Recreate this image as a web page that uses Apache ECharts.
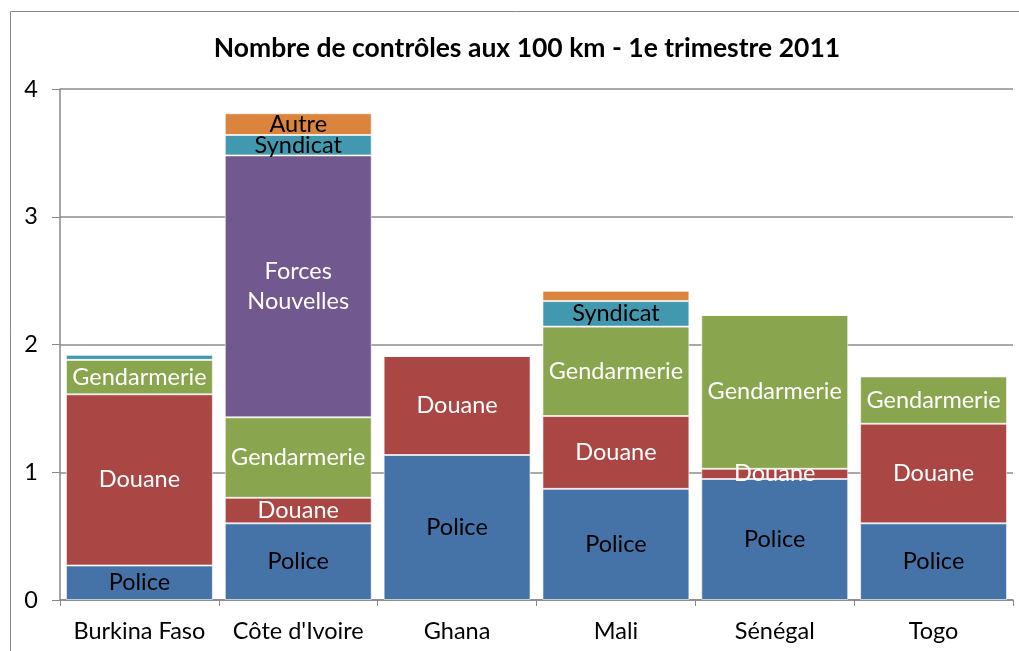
<!DOCTYPE html>
<html>
<head>
<meta charset="utf-8">
<script src="https://cdn.jsdelivr.net/npm/echarts@6/dist/echarts.min.js"></script>
<style>
  html, body { margin: 0; padding: 0; background: #fff; }
  #chart { width: 1019px; height: 651px; }
</style>
</head>
<body>
<div id="chart"></div>
<script>
var countries = ['Burkina Faso', "Côte d'Ivoire", 'Ghana', 'Mali', 'Sénégal', 'Togo'];
var police = [0.27, 0.60, 1.135, 0.87, 0.947, 0.60];
var douane = [1.34, 0.20, 0.775, 0.57, 0.08, 0.78];
var gendarmerie = [0.27, 0.63, 0, 0.70, 1.205, 0.37];
var forcesNouvelles = [0, 2.05, 0, 0, 0, 0];
var syndicat = [0.04, 0.16, 0, 0.20, 0, 0];
var autre = [0, 0.17, 0, 0.08, 0, 0];

var font = 'Lato, "Open Sans", sans-serif';
var chart = echarts.init(document.getElementById('chart'));

// one stacked series; empty segments and slivers without a label in the original get no label
function stackSeries(name, values, color, labelColor, labelText, hidden) {
  return {
    name: name,
    type: 'bar',
    stack: 'total',
    barCategoryGap: '7.5%',
    itemStyle: { color: color, borderColor: 'rgba(255,255,255,0.6)', borderWidth: 1 },
    label: {
      show: true,
      position: 'inside',
      color: labelColor,
      fontFamily: font,
      fontSize: 23.5,
      lineHeight: 30,
      formatter: labelText || name
    },
    data: values.map(function (v, i) {
      var item = { value: v };
      if (v === 0 || (hidden && hidden.indexOf(i) >= 0)) item.label = { show: false };
      return item;
    })
  };
}

chart.setOption({
  animation: false,
  title: {
    text: 'Nombre de contrôles aux 100 km - 1e trimestre 2011',
    left: 522,
    textAlign: 'center',
    top: 30,
    textStyle: { fontFamily: font, fontSize: 26.5, fontWeight: 'bold', color: '#000' }
  },
  graphic: [{
    type: 'rect',
    shape: { x: 10.5, y: 11.5, width: 1200, height: 700 },
    style: { fill: 'none', stroke: '#888', lineWidth: 1 },
    silent: true
  }],
  grid: { left: 60, right: 6, top: 89, bottom: 51 },
  xAxis: {
    type: 'category',
    data: countries,
    axisLine: { lineStyle: { color: '#888', width: 1.5 } },
    axisTick: { show: true, interval: 0, length: 6, lineStyle: { color: '#888' } },
    axisLabel: { interval: 0, hideOverlap: false, color: '#000', fontFamily: font, fontSize: 23.5, margin: 19 }
  },
  yAxis: {
    type: 'value',
    min: 0,
    max: 4,
    interval: 1,
    axisLine: { show: true, lineStyle: { color: '#888', width: 1.5 } },
    axisTick: { show: true, length: 8, lineStyle: { color: '#888' } },
    axisLabel: { color: '#000', fontFamily: font, fontSize: 23.5, margin: 22 },
    splitLine: { lineStyle: { color: '#8c8c8c', width: 1.5 } }
  },
  series: [
    stackSeries('Police', police, '#4572A7', '#000'),
    stackSeries('Douane', douane, '#AA4643', '#fff'),
    stackSeries('Gendarmerie', gendarmerie, '#89A54E', '#fff'),
    stackSeries('Forces Nouvelles', forcesNouvelles, '#71588F', '#fff', 'Forces\nNouvelles'),
    stackSeries('Syndicat', syndicat, '#4198AF', '#000', null, [0]),
    stackSeries('Autre', autre, '#DB843D', '#000', null, [3])
  ]
});
</script>
</body>
</html>
